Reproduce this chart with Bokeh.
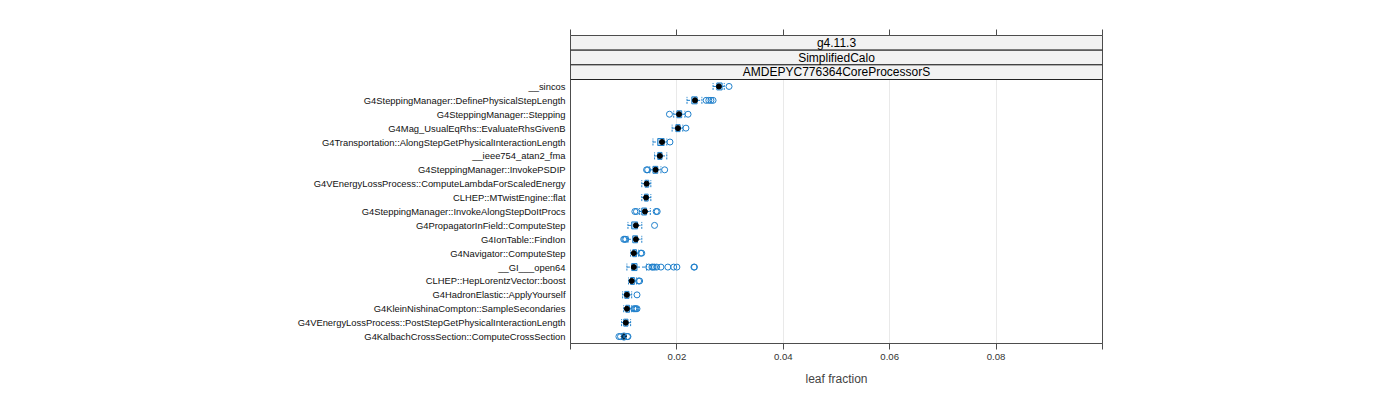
from bokeh.plotting import figure
from bokeh.models import FixedTicker, LinearAxis, ColumnDataSource, Range1d
from bokeh.embed import file_html
from bokeh.resources import INLINE
from bokeh.core.properties import value

categories = [
    "__sincos",
    "G4SteppingManager::DefinePhysicalStepLength",
    "G4SteppingManager::Stepping",
    "G4Mag_UsualEqRhs::EvaluateRhsGivenB",
    "G4Transportation::AlongStepGetPhysicalInteractionLength",
    "__ieee754_atan2_fma",
    "G4SteppingManager::InvokePSDIP",
    "G4VEnergyLossProcess::ComputeLambdaForScaledEnergy",
    "CLHEP::MTwistEngine::flat",
    "G4SteppingManager::InvokeAlongStepDoItProcs",
    "G4PropagatorInField::ComputeStep",
    "G4IonTable::FindIon",
    "G4Navigator::ComputeStep",
    "__GI___open64",
    "CLHEP::HepLorentzVector::boost",
    "G4HadronElastic::ApplyYourself",
    "G4KleinNishinaCompton::SampleSecondaries",
    "G4VEnergyLossProcess::PostStepGetPhysicalInteractionLength",
    "G4KalbachCrossSection::ComputeCrossSection",
]
whisker_low = [0.0268, 0.0219, 0.0194, 0.0191, 0.0155, 0.0158, 0.0149, 0.0134, 0.0134, 0.0130,
               0.0108, 0.0108, 0.0113, 0.0106, 0.0109, 0.0098, 0.0100, 0.0096, 0.0096]
q1 = [0.0275, 0.0228, 0.0200, 0.0198, 0.0164, 0.0164, 0.0155, 0.0140, 0.0139, 0.0134,
      0.0115, 0.0117, 0.0117, 0.0115, 0.0113, 0.0102, 0.0104, 0.0100, 0.0098]
median = [0.0279, 0.0234, 0.0204, 0.0202, 0.0172, 0.0168, 0.0160, 0.0143, 0.0142, 0.0140,
          0.0123, 0.0123, 0.0119, 0.0119, 0.0115, 0.0106, 0.0106, 0.0104, 0.0100]
q3 = [0.0285, 0.0238, 0.0209, 0.0206, 0.0176, 0.0172, 0.0164, 0.0147, 0.0146, 0.0143,
      0.0126, 0.0126, 0.0124, 0.0125, 0.0120, 0.0110, 0.0111, 0.0108, 0.0103]
whisker_high = [0.0289, 0.0247, 0.0215, 0.0211, 0.0181, 0.0181, 0.0170, 0.0151, 0.0151, 0.0150,
                0.0134, 0.0134, 0.0128, 0.0143, 0.0124, 0.0115, 0.0115, 0.0113, 0.0105]
outliers = [
    [0.0298],
    [0.0255, 0.0260, 0.0264, 0.0268],
    [0.0186, 0.0221],
    [0.0217],
    [0.0187],
    [],
    [0.0143, 0.0145, 0.0177],
    [],
    [],
    [0.0121, 0.0124, 0.0161, 0.0163],
    [0.0158],
    [0.0100, 0.0102, 0.0104],
    [0.0132, 0.0134],
    [0.0147, 0.0153, 0.0155, 0.0158, 0.0162, 0.0170, 0.0183, 0.0194, 0.0200, 0.0232, 0.0233],
    [0.0128, 0.0130],
    [0.0125],
    [0.0119, 0.0121, 0.0123, 0.0125],
    [],
    [0.0091, 0.0094, 0.0107, 0.0108],
]
strip_labels = ["g4.11.3", "SimplifiedCalo", "AMDEPYC776364CoreProcessorS"]
x_ticks = [0.0, 0.02, 0.04, 0.06, 0.08, 0.1]
x_tick_labels = {0.0: "", 0.02: "0.02", 0.04: "0.04", 0.06: "0.06", 0.08: "0.08", 0.1: ""}
x_label = "leaf fraction"

FONT = "Liberation Sans"
BLUE = "#1f80cc"
n = len(categories)
ys = [n - i for i in range(n)]
half = 0.25
strip_h = 1.0557
y_top = n + 0.5 + strip_h * len(strip_labels)

p = figure(width=1392, height=392, output_backend="svg", toolbar_location=None,
           x_range=Range1d(0, 0.1), y_range=Range1d(0.5, y_top),
           min_border_left=570, min_border_right=290, min_border_top=35, min_border_bottom=49,
           x_axis_location="below")
p.outline_line_color = "#4d4d4d"
p.background_fill_color = "white"
p.border_fill_color = "white"

ticker = FixedTicker(ticks=x_ticks)
p.xaxis.ticker = ticker
p.xaxis.major_label_overrides = x_tick_labels
p.xaxis.major_tick_out = 6
p.xaxis.major_tick_in = 0
p.xaxis.minor_tick_line_color = None
p.xaxis.major_tick_line_color = "#4d4d4d"
p.xaxis.axis_line_color = "#4d4d4d"
p.xaxis.major_label_text_font = FONT
p.xaxis.major_label_text_font_size = "9.6px"
p.xaxis.major_label_text_color = "#333333"
p.xaxis.major_label_standoff = 4
p.xaxis.axis_label = x_label
p.xaxis.axis_label_text_font = FONT
p.xaxis.axis_label_text_font_size = "12px"
p.xaxis.axis_label_text_font_style = "normal"
p.xaxis.axis_label_standoff = 9

top_axis = LinearAxis(ticker=ticker, major_label_text_color=None, axis_line_color=None,
                      major_tick_out=6, major_tick_in=0, minor_tick_line_color=None,
                      major_tick_line_color="#4d4d4d", major_label_text_font_size="1px")
p.add_layout(top_axis, "above")

p.yaxis.ticker = FixedTicker(ticks=ys)
p.yaxis.major_label_overrides = {y: c for y, c in zip(ys, categories)}
p.yaxis.major_tick_line_color = None
p.yaxis.minor_tick_line_color = None
p.yaxis.major_tick_out = 0
p.yaxis.major_tick_in = 0
p.yaxis.axis_line_color = None
p.yaxis.major_label_text_font = FONT
p.yaxis.major_label_text_font_size = "9.4px"
p.yaxis.major_label_text_color = "#111111"
p.yaxis.major_label_standoff = 5

p.xgrid.ticker = ticker
p.xgrid.grid_line_color = "#e9e9e9"
p.ygrid.grid_line_color = None

src = ColumnDataSource(dict(y=ys, lo=whisker_low, q1=q1, med=median, q3=q3, hi=whisker_high,
                            yb=[y - half for y in ys], yt=[y + half for y in ys]))

# whiskers
p.segment(x0="lo", x1="q1", y0="y", y1="y", source=src, line_color=BLUE, line_dash="3 2", line_width=1)
p.segment(x0="q3", x1="hi", y0="y", y1="y", source=src, line_color=BLUE, line_dash="3 2", line_width=1)
p.segment(x0="lo", x1="lo", y0="yb", y1="yt", source=src, line_color=BLUE, line_dash="2 1", line_width=1)
p.segment(x0="hi", x1="hi", y0="yb", y1="yt", source=src, line_color=BLUE, line_dash="2 1", line_width=1)
# boxes
p.quad(left="q1", right="q3", bottom="yb", top="yt", source=src,
       fill_color=BLUE, fill_alpha=0.35, line_color=BLUE, line_width=1)
# median dot
p.scatter(x="med", y="y", source=src, size=5, color="black")
# outliers
ox, oy = [], []
for y, outs in zip(ys, outliers):
    for v in outs:
        ox.append(v)
        oy.append(y)
p.scatter(x=ox, y=oy, marker="circle", size=6, fill_color=None, line_color=BLUE, line_width=1)

# strips
sb, st = [], []
for k in range(len(strip_labels)):
    b = y_top - (k + 1) * strip_h
    sb.append(b)
    st.append(b + strip_h)
p.quad(left=0, right=0.1, bottom=sb, top=st, fill_color="#f2f2f2", line_color="#222222", line_width=1)
p.text(x=[0.05] * len(strip_labels), y=[(b + t) / 2 for b, t in zip(sb, st)], text=strip_labels,
       text_align="center", text_baseline="middle", text_font=value(FONT),
       text_font_size="12px", text_color="black")

open("out.html", "w").write(file_html(p, INLINE))
